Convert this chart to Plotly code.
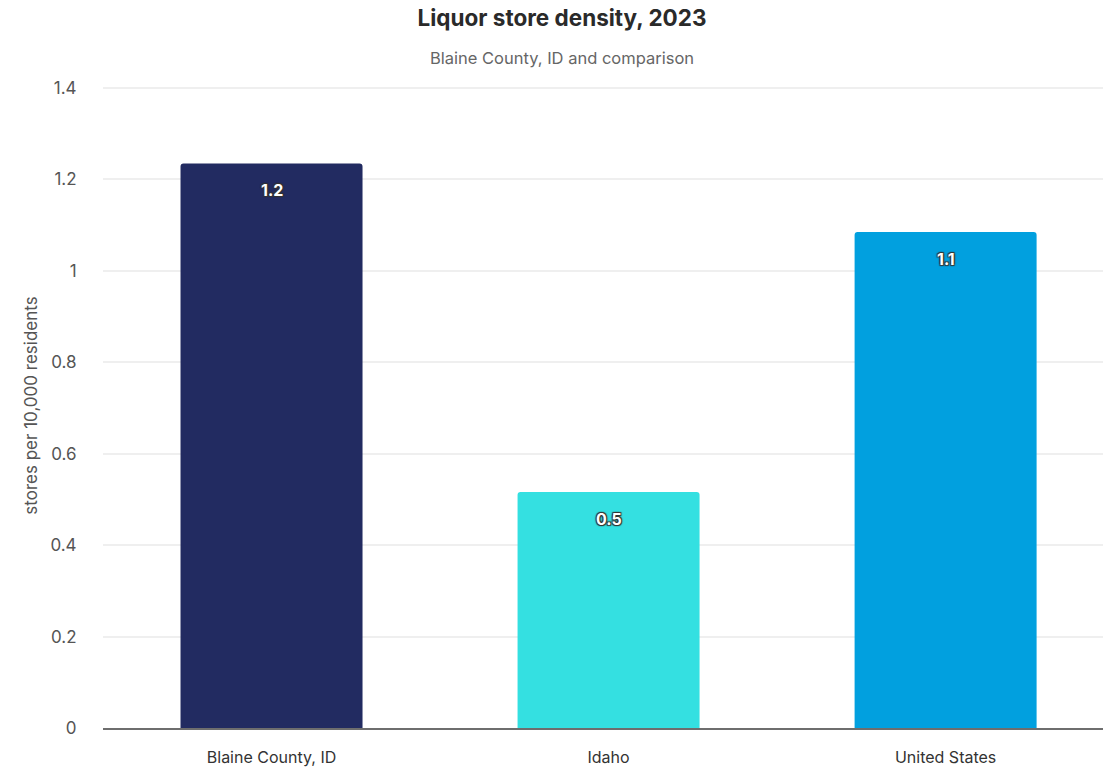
import plotly.graph_objects as go

# Liquor store density, stores per 10,000 residents (2023)
places = ["Blaine County, ID", "Idaho", "United States"]
density = [1.235, 0.516, 1.085]
bar_colors = ["#222b61", "#34e0e1", "#01a0df"]
y_ticks = [0, 0.2, 0.4, 0.6, 0.8, 1.0, 1.2, 1.4]
y_tick_text = ["0", "0.2", "0.4", "0.6", "0.8", "1", "1.2", "1.4"]

FONT = "Inter, 'Noto Sans', sans-serif"

fig = go.Figure()
fig.add_trace(go.Bar(
    x=places,
    y=density,
    marker=dict(color=bar_colors, line=dict(width=0), cornerradius=3),
    width=0.54,
    hoverinfo="skip",
))

# value labels just under each bar top, white with a dark outline
for p, v in zip(places, density):
    fig.add_annotation(
        x=p, y=v, yshift=-27, text=f"{v:.1f}", showarrow=False,
        font=dict(family=FONT, size=16, color="white", weight="bold",
                  shadow="1px 1px 1px #333, -1px -1px 1px #333, 1px -1px 1px #333, -1px 1px 1px #333"),
    )

fig.update_layout(
    width=1103, height=774,
    margin=dict(l=103, r=0, t=83, b=46),
    paper_bgcolor="white", plot_bgcolor="white",
    showlegend=False,
    font=dict(family=FONT, color="#444"),
    title=dict(
        text="<b>Liquor store density, 2023</b>",
        x=0.5095, xanchor="center", y=0.977, yanchor="middle",
        font=dict(family=FONT, size=22.5, color="#2a2a2a"),
    ),
    xaxis=dict(
        range=[-0.5, 2.467],
        showgrid=False,
        showline=True, linecolor="#6e6e6e", linewidth=1.5,
        ticks="outside", ticklen=14, tickcolor="rgba(0,0,0,0)",
        tickfont=dict(family=FONT, size=16, color="#333"),
        fixedrange=True,
    ),
    yaxis=dict(
        range=[0, 1.4109],
        tickvals=y_ticks, ticktext=y_tick_text,
        showgrid=True, gridcolor="#efefef", gridwidth=1.5,
        zeroline=False,
        ticks="outside", ticklen=22, tickcolor="rgba(0,0,0,0)",
        tickfont=dict(family=FONT, size=17, color="#555"),
        title=dict(text="stores per 10,000 residents",
                   font=dict(family=FONT, size=17, color="#555"), standoff=8),
        fixedrange=True,
    ),
)

fig.add_annotation(
    text="Blaine County, ID and comparison", xref="paper", yref="paper",
    x=0.459, y=1, yshift=37, showarrow=False, xanchor="center",
    font=dict(family=FONT, size=16.5, color="#666"),
)

fig.write_html("out.html")
